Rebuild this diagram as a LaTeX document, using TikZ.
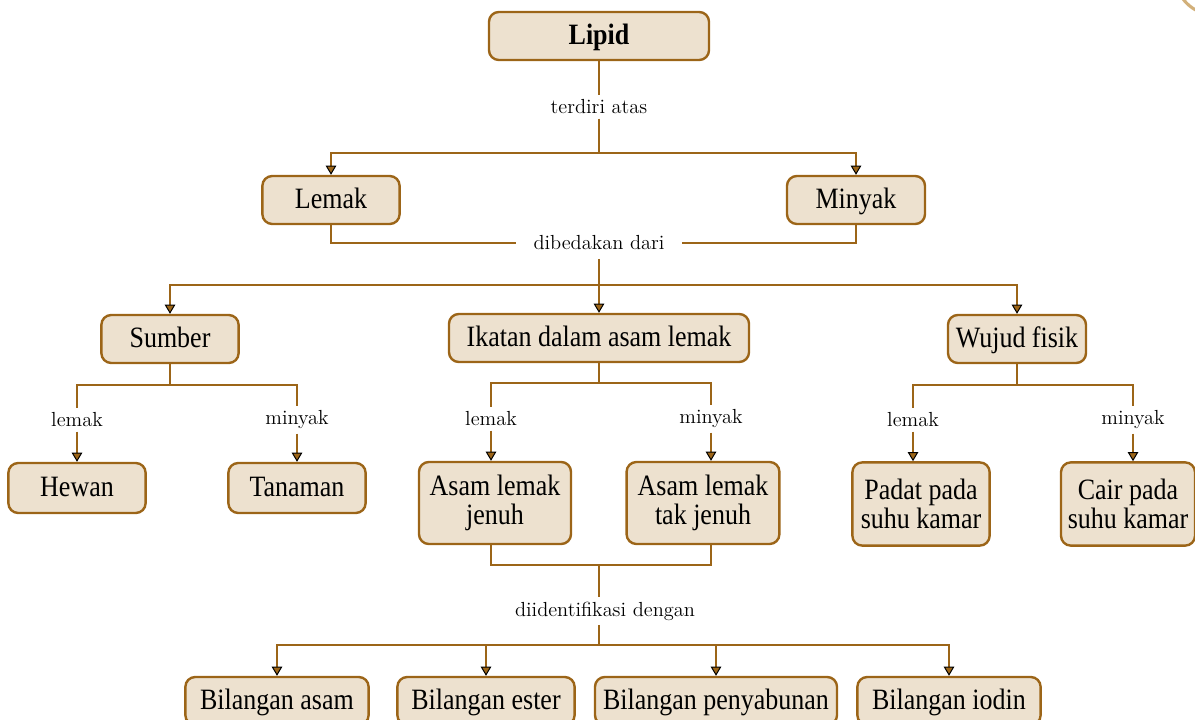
\documentclass[tikz,border=0pt]{standalone}
\usepackage{tikz}
\usepackage{fontspec}
\usetikzlibrary{arrows.meta}
\newfontfamily\boxfont[FakeStretch=0.88]{Liberation Serif}
\definecolor{lipbrown}{HTML}{9C6518}
\definecolor{lipfill}{HTML}{EDE1CF}
\definecolor{decotan}{HTML}{D2B07A}

\begin{document}
\begin{tikzpicture}[x=0.025cm, y=-0.025cm,
    box/.style={draw=lipbrown, fill=lipfill, line width=1.7pt, rounded corners=7pt, minimum height=1.2cm, align=center, inner sep=2pt, font=\boxfont\fontsize{21}{21}\selectfont},
    onebox/.style={box, text height=16pt, text depth=4pt},
    lbl/.style={inner xsep=10pt, inner ysep=3pt, font=\fontsize{14.5}{16}\selectfont},
    conn/.style={draw=lipbrown, line width=1.5pt},
    arr/.style={conn, -{Triangle[width=7.5pt, length=6.5pt, color=black, fill=lipbrown, line width=0.7pt]}}]
                \useasboundingbox (0,0) rectangle (1195,720);
                % Corner decoration
                \draw[decotan, line width=2.2pt] (1215,-25) circle (40);
                
                % Top level
                \node[onebox, font=\boxfont\fontsize{21}{21}\selectfont\bfseries, minimum width=5.5cm] (lipid) at (599,36) {Lipid};
                \node[lbl] (terdiri) at (599,107) {terdiri atas};
                \node[onebox, minimum width=3.43cm] (lemak) at (331,200) {Lemak};
                \node[onebox, minimum width=3.45cm] (minyak) at (856,200) {Minyak};
                \node[lbl, inner xsep=12pt, inner ysep=6pt] (dibedakan) at (599,243) {dibedakan dari};
                
                % Second level
                \node[onebox, minimum width=3.43cm] (sumber) at (170,339) {Sumber};
                \node[onebox, minimum width=7.5cm] (ikatan) at (599,338) {Ikatan dalam asam lemak};
                \node[onebox, minimum width=3.45cm] (wujud) at (1017,339) {Wujud fisik};
                
                % Sumber branch
                \node[lbl] (sLemak) at (77,420) {lemak};
                \node[lbl] (sMinyak) at (297,420) {minyak};
                \node[onebox, minimum width=3.43cm, minimum height=1.25cm] (hewan) at (77,488) {Hewan};
                \node[onebox, minimum width=3.43cm, minimum height=1.25cm] (tanaman) at (297,488) {Tanaman};
                
                % Ikatan branch
                \node[lbl] (iLemak) at (491,419) {lemak};
                \node[lbl] (iMinyak) at (711,419) {minyak};
                \node[box, minimum width=3.8cm, minimum height=2.05cm] (jenuh) at (495,503) {Asam lemak\\jenuh};
                \node[box, minimum width=3.82cm, minimum height=2.05cm] (takjenuh) at (703,503) {Asam lemak\\tak jenuh};
                
                % Wujud branch
                \node[lbl] (wLemak) at (913,420) {lemak};
                \node[lbl] (wMinyak) at (1133,420) {minyak};
                \node[box, minimum width=3.43cm, minimum height=2.08cm] (padat) at (921,504) {Padat pada\\suhu kamar};
                \node[box, minimum width=3.35cm, minimum height=2.08cm] (cair) at (1128,504) {Cair pada\\suhu kamar};
                
                % Identification
                \node[lbl] (diid) at (605,611) {diidentifikasi dengan};
                \node[onebox, minimum width=4.58cm] (bAsam) at (277,701) {Bilangan asam};
                \node[onebox, minimum width=4.43cm] (bEster) at (486,701) {Bilangan ester};
                \node[onebox, minimum width=6.05cm] (bSabun) at (716,701) {Bilangan penyabunan};
                \node[onebox, minimum width=4.58cm] (bIodin) at (949,701) {Bilangan iodin};
                
                % Junctions
                \coordinate (j1) at (599,153);
                \coordinate (j2) at (599,285);
                \coordinate (s1) at (170,385);
                \coordinate (i1) at (599,383);
                \coordinate (w1) at (1017,385);
                \coordinate (i2) at (599,565);
                \coordinate (j3) at (599,645);
                
                % Connections
                \draw[conn] (lipid) -- (terdiri);
                \draw[conn] (terdiri) -- (j1);
                \draw[arr] (j1) -| (lemak);
                \draw[arr] (j1) -| (minyak);
                \draw[conn] (lemak) |- (dibedakan);
                \draw[conn] (minyak) |- (dibedakan);
                \draw[conn] (dibedakan) -- (j2);
                \draw[arr] (j2) -| (sumber);
                \draw[arr] (j2) -- (ikatan);
                \draw[arr] (j2) -| (wujud);
                
                \draw[conn] (sumber) -- (s1);
                \draw[conn] (s1) -| (sLemak);
                \draw[conn] (s1) -| (sMinyak);
                \draw[arr] (sLemak) -- (hewan);
                \draw[arr] (sMinyak) -- (tanaman);
                
                \draw[conn] (ikatan) -- (i1);
                \draw[conn] (i1) -| (iLemak);
                \draw[conn] (i1) -| (iMinyak);
                \draw[arr] (iLemak) -- (iLemak |- jenuh.north);
                \draw[arr] (iMinyak) -- (iMinyak |- takjenuh.north);
                
                \draw[conn] (wujud) -- (w1);
                \draw[conn] (w1) -| (wLemak);
                \draw[conn] (w1) -| (wMinyak);
                \draw[arr] (wLemak) -- (wLemak |- padat.north);
                \draw[arr] (wMinyak) -- (wMinyak |- cair.north);
                
                \draw[conn] (jenuh.south -| iLemak) |- (i2) -| (takjenuh.south -| iMinyak);
                \draw[conn] (i2) -- (i2 |- diid.north);
                \draw[conn] (diid.south -| j3) -- (j3);
                \draw[arr] (j3) -| (bAsam);
                \draw[arr] (j3) -| (bEster);
                \draw[arr] (j3) -| (bSabun);
                \draw[arr] (j3) -| (bIodin);
            \end{tikzpicture}
\end{document}
